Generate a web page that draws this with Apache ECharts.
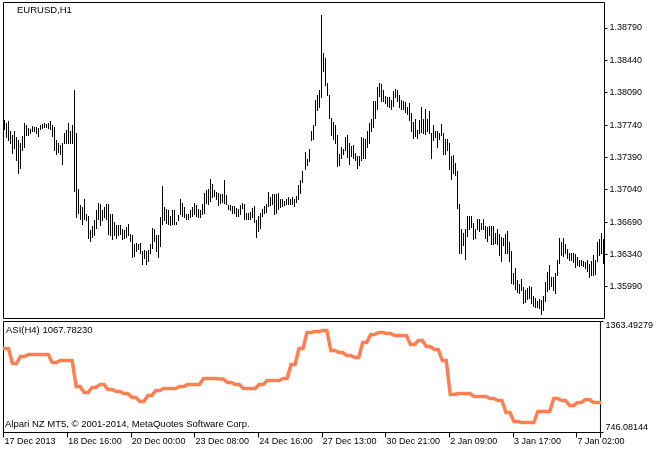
<!DOCTYPE html>
<html><head><meta charset="utf-8">
<script src="https://cdn.jsdelivr.net/npm/echarts@6/dist/echarts.min.js"></script>
<style>html,body{margin:0;padding:0;background:#fff}#c{width:656px;height:452px}</style>
</head><body><div id="c"></div>
<script>
const highs = [
1.3779,1.3776,1.3778,1.3768,1.3763,1.3768,1.3761,1.3758,1.3755,1.3762,
1.3776,1.3774,1.3771,1.3770,1.3773,1.3772,1.3772,1.3771,1.3774,1.3775,
1.3776,1.3775,1.3776,1.3778,1.3774,1.3772,1.3758,1.3755,1.3752,1.3754,
1.3765,1.3769,1.3776,1.3768,1.3774,1.3812,1.3765,1.3705,1.3687,1.3685,
1.3694,1.3678,1.3676,1.3660,1.3665,1.3671,1.3682,1.3690,1.3688,1.3682,
1.3685,1.3688,1.3688,1.3678,1.3678,1.3669,1.3666,1.3666,1.3666,1.3662,
1.3660,1.3664,1.3667,1.3656,1.3655,1.3645,1.3646,1.3645,1.3646,1.3638,
1.3639,1.3638,1.3639,1.3645,1.3663,1.3662,1.3655,1.3655,1.3674,1.3708,
1.3685,1.3683,1.3682,1.3675,1.3682,1.3682,1.3669,1.3677,1.3694,1.3690,
1.3685,1.3678,1.3678,1.3682,1.3685,1.3690,1.3687,1.3683,1.3682,1.3689,
1.3700,1.3704,1.3705,1.3716,1.3710,1.3704,1.3702,1.3700,1.3699,1.3699,
1.3714,1.3698,1.3687,1.3687,1.3686,1.3686,1.3684,1.3683,1.3687,1.3690,
1.3688,1.3679,1.3679,1.3680,1.3684,1.3686,1.3671,1.3676,1.3679,1.3683,
1.3686,1.3688,1.3702,1.3696,1.3699,1.3699,1.3699,1.3700,1.3694,1.3694,
1.3692,1.3694,1.3696,1.3694,1.3696,1.3694,1.3697,1.3709,1.3715,1.3724,
1.3745,1.3737,1.3748,1.3768,1.3774,1.3801,1.3806,1.3812,1.3893,1.3852,
1.3847,1.3819,1.3807,1.3782,1.3777,1.3774,1.3763,1.3743,1.3750,1.3748,
1.3761,1.3763,1.3755,1.3751,1.3752,1.3744,1.3741,1.3741,1.3761,1.3760,
1.3759,1.3767,1.3776,1.3780,1.3800,1.3800,1.3815,1.3819,1.3818,1.3812,
1.3805,1.3804,1.3804,1.3801,1.3811,1.3813,1.3812,1.3806,1.3801,1.3800,
1.3799,1.3794,1.3798,1.3787,1.3777,1.3780,1.3769,1.3779,1.3794,1.3781,
1.3791,1.3781,1.3789,1.3765,1.3774,1.3768,1.3767,1.3765,1.3775,1.3765,
1.3759,1.3759,1.3754,1.3740,1.3742,1.3733,1.3724,1.3689,1.3662,1.3657,
1.3661,1.3676,1.3676,1.3676,1.3668,1.3661,1.3672,1.3672,1.3668,1.3672,
1.3665,1.3664,1.3665,1.3665,1.3665,1.3657,1.3662,1.3656,1.3653,1.3652,
1.3656,1.3659,1.3647,1.3638,1.3614,1.3619,1.3606,1.3602,1.3607,1.3599,
1.3595,1.3598,1.3600,1.3599,1.3589,1.3587,1.3584,1.3586,1.3585,1.3589,
1.3604,1.3615,1.3622,1.3610,1.3609,1.3614,1.3628,1.3652,1.3647,1.3652,
1.3645,1.3640,1.3636,1.3635,1.3635,1.3634,1.3631,1.3628,1.3628,1.3627,
1.3626,1.3628,1.3624,1.3627,1.3633,1.3628,1.3647,1.3651,1.3657,1.3651];
const lows = [
1.3770,1.3761,1.3758,1.3754,1.3744,1.3749,1.3736,1.3722,1.3728,1.3747,
1.3750,1.3763,1.3763,1.3765,1.3767,1.3768,1.3765,1.3762,1.3770,1.3771,
1.3772,1.3772,1.3771,1.3770,1.3762,1.3747,1.3743,1.3745,1.3743,1.3732,
1.3754,1.3754,1.3754,1.3754,1.3755,1.3703,1.3674,1.3679,1.3672,1.3667,
1.3672,1.3671,1.3652,1.3648,1.3653,1.3655,1.3663,1.3672,1.3666,1.3671,
1.3674,1.3672,1.3656,1.3655,1.3651,1.3655,1.3652,1.3655,1.3656,1.3651,
1.3652,1.3653,1.3655,1.3649,1.3631,1.3632,1.3638,1.3640,1.3635,1.3624,
1.3630,1.3624,1.3627,1.3635,1.3641,1.3649,1.3638,1.3631,1.3643,1.3667,
1.3671,1.3668,1.3667,1.3666,1.3667,1.3667,1.3667,1.3671,1.3678,1.3676,
1.3674,1.3672,1.3672,1.3674,1.3676,1.3678,1.3675,1.3674,1.3674,1.3678,
1.3679,1.3690,1.3689,1.3692,1.3696,1.3697,1.3694,1.3687,1.3690,1.3691,
1.3690,1.3689,1.3683,1.3682,1.3679,1.3679,1.3675,1.3675,1.3678,1.3684,
1.3672,1.3672,1.3672,1.3672,1.3674,1.3669,1.3653,1.3659,1.3663,1.3675,
1.3679,1.3680,1.3686,1.3687,1.3689,1.3678,1.3679,1.3683,1.3685,1.3686,
1.3687,1.3688,1.3689,1.3689,1.3688,1.3686,1.3691,1.3694,1.3700,1.3712,
1.3726,1.3731,1.3735,1.3758,1.3759,1.3774,1.3790,1.3793,1.3804,1.3833,
1.3817,1.3806,1.3782,1.3763,1.3759,1.3755,1.3730,1.3731,1.3738,1.3743,
1.3747,1.3739,1.3732,1.3741,1.3738,1.3736,1.3728,1.3731,1.3736,1.3738,
1.3738,1.3750,1.3755,1.3768,1.3772,1.3782,1.3791,1.3805,1.3800,1.3800,
1.3798,1.3795,1.3793,1.3791,1.3795,1.3804,1.3800,1.3793,1.3791,1.3791,
1.3788,1.3786,1.3779,1.3767,1.3760,1.3762,1.3760,1.3765,1.3766,1.3765,
1.3764,1.3768,1.3765,1.3738,1.3758,1.3761,1.3750,1.3759,1.3763,1.3743,
1.3743,1.3747,1.3726,1.3716,1.3722,1.3720,1.3684,1.3636,1.3635,1.3644,
1.3629,1.3654,1.3662,1.3664,1.3651,1.3652,1.3661,1.3659,1.3662,1.3661,
1.3652,1.3648,1.3655,1.3645,1.3645,1.3646,1.3645,1.3633,1.3627,1.3644,
1.3636,1.3635,1.3627,1.3603,1.3602,1.3597,1.3593,1.3592,1.3595,1.3581,
1.3582,1.3586,1.3587,1.3581,1.3578,1.3577,1.3577,1.3576,1.3570,1.3574,
1.3584,1.3594,1.3597,1.3600,1.3595,1.3592,1.3612,1.3625,1.3633,1.3632,
1.3635,1.3630,1.3628,1.3628,1.3626,1.3620,1.3622,1.3621,1.3623,1.3621,
1.3619,1.3616,1.3610,1.3612,1.3612,1.3613,1.3627,1.3633,1.3636,1.3625];
// ASI indicator computed on H4: one value per 4 hourly bars
const asiH4 = [
1213.3,1129.9,1168.8,1179.9,1179.9,1179.9,1135.5,1146.6,1146.6,1001.9,
968.6,996.4,1013.1,985.3,974.2,963.0,940.8,918.5,951.9,979.7,
990.8,990.8,1001.9,1013.1,1013.1,1046.5,1046.5,1043.7,1024.2,1013.1,
990.8,990.8,1013.1,1035.3,1035.3,1046.5,1124.3,1213.3,1302.3,1307.9,
1313.4,1202.2,1191.1,1174.4,1163.3,1246.7,1291.2,1302.3,1296.7,1285.6,
1285.6,1235.6,1257.8,1224.4,1207.8,1146.6,957.5,963.0,963.0,946.3,
946.3,935.2,924.1,857.3,807.3,801.7,801.7,862.9,862.9,935.2,
924.1,896.3,913.0,929.7,913.0];
const tickLabels = ['17 Dec 2013','18 Dec 16:00','20 Dec 00:00','23 Dec 08:00','24 Dec 16:00',
  '27 Dec 13:00','30 Dec 21:00','2 Jan 09:00','3 Jan 17:00','7 Jan 02:00'];
const priceTicks = [1.35990,1.36340,1.36690,1.37040,1.37390,1.37740,1.38090,1.38440,1.38790];
const priceRange = [1.35646, 1.39066];
const asiRange = [746.08144, 1363.49279];

const N = highs.length;
const categories = highs.map((_, i) => String(i));
const barData = highs.map((h, i) => [i, h, lows[i]]);
const asi = [];
asiH4.forEach(v => { for (let k = 0; k < 4; k++) asi.push(v); });

const FONT = 'Liberation Sans, Arial, sans-serif';
const txt = {fontSize: 9.5, fontWeight: 'normal', color: '#000', fontFamily: FONT};

const chart = echarts.init(document.getElementById('c'), null, {renderer: 'canvas'});
chart.setOption({
  backgroundColor: '#fff',
  animation: false,
  title: [
    {text: 'EURUSD,H1', left: 17, top: 5, padding: 0, textStyle: txt},
    {text: 'ASI(H4) 1067.78230', left: 6, top: 325, padding: 0, textStyle: txt},
    {text: 'Alpari NZ MT5, \u00a9 2001-2014, MetaQuotes Software Corp.', left: 5, top: 419.5, padding: 0, textStyle: txt}
  ],
  grid: [
    {left: 3.5, top: 2.5, width: 601, height: 316, show: true, borderColor: '#000', borderWidth: 1, containLabel: false},
    {left: 3.5, top: 321.5, width: 601, height: 111, show: true, borderColor: '#000', borderWidth: 1, containLabel: false}
  ],
  xAxis: [
    {type: 'category', gridIndex: 0, data: categories, boundaryGap: true,
     axisLine: {show: false}, axisTick: {show: false}, axisLabel: {show: false}, splitLine: {show: false}},
    {type: 'category', gridIndex: 1, data: categories, boundaryGap: true,
     axisLine: {show: false},
     axisTick: {show: true, interval: 31, length: 5, lineStyle: {color: '#000', width: 1}},
     axisLabel: {show: true, interval: 31, align: 'left', margin: 5, color: '#000', fontSize: 9, fontFamily: FONT,
       hideOverlap: false,
       formatter: (v, idx) => (idx % 32 === 0 ? (tickLabels[idx / 32] || '') : '')},
     splitLine: {show: false}}
  ],
  yAxis: [
    {type: 'value', gridIndex: 0, position: 'right', min: priceRange[0], max: priceRange[1],
     axisLine: {show: false}, splitLine: {show: false},
     axisTick: {show: true, length: 3, customValues: priceTicks, lineStyle: {color: '#000'}},
     axisLabel: {show: true, customValues: priceTicks, margin: 5, color: '#000', fontSize: 9, fontFamily: FONT,
       formatter: v => v.toFixed(5)}},
    {type: 'value', gridIndex: 1, position: 'right', min: asiRange[0], max: asiRange[1],
     axisLine: {show: false}, splitLine: {show: false},
     axisTick: {show: true, length: 3, customValues: asiRange, lineStyle: {color: '#000'}},
     axisLabel: {show: true, customValues: asiRange, margin: 5, color: '#000', fontSize: 9, fontFamily: FONT,
       verticalAlignMinLabel: 'bottom', verticalAlignMaxLabel: 'top',
       formatter: v => v.toFixed(5)}}
  ],
  series: [
    {type: 'custom', xAxisIndex: 0, yAxisIndex: 0, data: barData, encode: {x: 0, y: [1, 2]},
     clip: true,
     renderItem: (params, api) => {
       const i = api.value(0);
       const hi = api.coord([i, api.value(1)]);
       const lo = api.coord([i, api.value(2)]);
       const x = Math.floor(hi[0]) + 0.5;
       return {type: 'line', shape: {x1: x, y1: Math.round(hi[1]), x2: x, y2: Math.round(lo[1]) + 1},
               style: {stroke: '#000', lineWidth: 1}};
     }},
    {type: 'line', xAxisIndex: 1, yAxisIndex: 1, data: asi, symbol: 'none', showSymbol: false,
     lineStyle: {color: '#FF7F50', width: 3.5, cap: 'square', join: 'miter'}, clip: true}
  ]
});
</script></body></html>
